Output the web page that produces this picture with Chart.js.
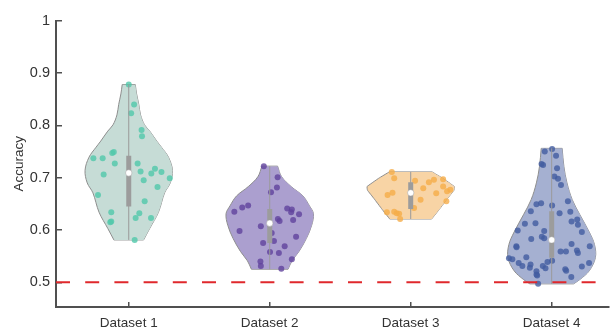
<!DOCTYPE html>
<html>
<head>
<meta charset="utf-8">
<script src="https://cdn.jsdelivr.net/npm/chart.js@4.4.0/dist/chart.umd.min.js"></script>
<style>
  html, body { margin: 0; padding: 0; background: #fff; }
  #wrap { width: 613px; height: 331px; position: relative; }
</style>
</head>
<body>
<div id="wrap"><canvas id="violinChart"></canvas></div>
<script>
// Categories and axis ticks
const categories = ['Dataset 1', 'Dataset 2', 'Dataset 3', 'Dataset 4'];
const yTicks = [0.5, 0.6, 0.7, 0.8, 0.9, 1];
const chanceLevel = 0.5;

// Accuracies of each sample, with the horizontal jitter (category units)
const acc1 = [0.878, 0.840, 0.823, 0.791, 0.779, 0.737, 0.737, 0.747, 0.749, 0.727, 0.727, 0.717, 0.711, 0.712,
              0.708, 0.699, 0.695, 0.706, 0.682, 0.667, 0.655, 0.634, 0.632, 0.623, 0.623, 0.615, 0.616, 0.581];
const jit1 = [0.000, 0.038, 0.017, 0.091, 0.094, -0.251, -0.185, -0.117, -0.106, -0.099, 0.063, 0.186, 0.232, 0.084,
              0.160, 0.291, 0.106, -0.178, 0.204, -0.218, 0.113, -0.124, 0.075, 0.049, 0.158, -0.131, -0.124, 0.042];

const acc2 = [0.722, 0.701, 0.681, 0.672, 0.635, 0.643, 0.647, 0.641, 0.639, 0.634, 0.630, 0.621, 0.617, 0.619,
              0.607, 0.598, 0.594, 0.587, 0.579, 0.575, 0.569, 0.558, 0.556, 0.544, 0.540, 0.531, 0.526];
const jit2 = [-0.042, 0.056, 0.051, 0.009, -0.251, -0.195, -0.153, 0.124, 0.157, 0.152, 0.208, 0.058, 0.070, 0.166,
              -0.063, -0.214, 0.014, 0.187, 0.030, -0.047, 0.106, 0.002, 0.065, 0.157, -0.066, -0.063, 0.082];

const acc3 = [0.711, 0.699, 0.694, 0.691, 0.696, 0.697, 0.680, 0.683, 0.677, 0.674, 0.670, 0.671, 0.667, 0.658,
              0.655, 0.642, 0.634, 0.635, 0.632, 0.631, 0.621];
const jit3 = [-0.134, -0.117, 0.031, 0.129, 0.165, 0.230, 0.089, 0.230, 0.281, 0.258, 0.181, -0.129, -0.164, 0.070,
              0.253, 0.024, -0.169, -0.117, -0.099, -0.082, -0.075];

const acc4 = [0.750, 0.755, 0.742, 0.726, 0.724, 0.718, 0.702, 0.698, 0.686, 0.655, 0.649, 0.651, 0.647, 0.636,
              0.632, 0.635, 0.612, 0.613, 0.616, 0.620, 0.610, 0.599, 0.598, 0.596, 0.583, 0.587, 0.584, 0.569,
              0.567, 0.573, 0.569, 0.559, 0.559, 0.561, 0.556, 0.548, 0.546, 0.544, 0.537, 0.539, 0.541, 0.531,
              0.534, 0.528, 0.531, 0.527, 0.521, 0.525, 0.522, 0.530, 0.537, 0.515, 0.513, 0.510, 0.497];
const jit4 = [-0.049, 0.003, 0.031, -0.072, -0.061, 0.038, 0.019, 0.045, 0.066, 0.115, -0.108, -0.075, 0.003, -0.148,
              0.056, 0.132, -0.190, -0.115, 0.141, 0.181, 0.186, -0.241, -0.053, 0.214, -0.145, -0.070, -0.053, -0.251,
              -0.249, 0.141, 0.270, 0.063, 0.101, 0.179, 0.186, -0.180, -0.303, -0.279, -0.234, -0.030, 0.003, -0.208,
              -0.150, -0.155, -0.063, -0.044, -0.108, 0.096, 0.103, 0.214, 0.265, -0.108, -0.103, 0.139, -0.096];

// Violin outlines: accuracy levels (bottom to top) and relative density (1 = widest)
const lev1 = [0.581, 0.603, 0.634, 0.671, 0.690, 0.714, 0.739, 0.758, 0.770, 0.789, 0.801, 0.820, 0.840, 0.860, 0.878];
const den1 = [0.34, 0.48, 0.68, 0.82, 0.95, 1.00, 0.91, 0.75, 0.64, 0.48, 0.36, 0.27, 0.23, 0.18, 0.15];
const lev2 = [0.525, 0.541, 0.559, 0.584, 0.609, 0.631, 0.646, 0.665, 0.683, 0.702, 0.722];
const den2 = [0.42, 0.51, 0.67, 0.84, 0.96, 1.00, 0.91, 0.76, 0.49, 0.27, 0.18];
const lev3 = [0.621, 0.640, 0.660, 0.676, 0.683, 0.699, 0.711];
const den3 = [0.48, 0.66, 0.84, 0.99, 1.00, 0.73, 0.49];
const lev4 = [0.497, 0.505, 0.522, 0.547, 0.572, 0.596, 0.630, 0.658, 0.690, 0.721, 0.756];
const den4 = [0.50, 0.64, 0.86, 1.00, 0.98, 0.86, 0.64, 0.47, 0.35, 0.28, 0.24];

// Box plot statistics
const q1s = [0.645, 0.575, 0.640, 0.547];
const medians = [0.709, 0.613, 0.671, 0.581];
const q3s = [0.742, 0.640, 0.691, 0.636];

const accs = [acc1, acc2, acc3, acc4];
const jits = [jit1, jit2, jit3, jit4];
const levels = [lev1, lev2, lev3, lev4];
const densities = [den1, den2, den3, den4];

// styling
const X_MIN = 0.484, X_MAX = 4.403, Y_MIN = 0.4528, Y_MAX = 1;
const HALF_WIDTH = 0.31;
const FONT = "'Liberation Sans', Arial, sans-serif";
const AXIS = '#505050';
const OUTLINE = '#8e8e8e';
const fillColors = ['#c6dcd6', '#ab9fcf', '#f8d4a5', '#a5b0d1'];
const dotColors = ['rgba(80, 200, 170, 0.8)', 'rgba(96, 66, 156, 0.8)', 'rgba(245, 172, 72, 0.8)', 'rgba(66, 92, 160, 0.8)'];
const edgeTension = [0.35, 0.35, 0.05, 0.35];

function buildDatasets() {
    const sets = [];
    categories.forEach((name, i) => {
        const c = i + 1;
        const lv = levels[i], dn = densities[i];
        const last = lv.length - 1;
        const edge = {
            type: 'line', indexAxis: 'y', borderColor: OUTLINE, borderWidth: 1,
            pointRadius: 0, tension: edgeTension[i], order: 5
        };
        // left and right edges of the violin, filled between each other
        sets.push(Object.assign({}, edge, {
            data: lv.map((y, j) => ({x: c - dn[j] * HALF_WIDTH, y: y})),
            fill: '+1', backgroundColor: fillColors[i]
        }));
        sets.push(Object.assign({}, edge, {
            data: lv.map((y, j) => ({x: c + dn[j] * HALF_WIDTH, y: y})),
            fill: false
        }));
        // flat bottom and top caps
        [0, last].forEach(k => {
            sets.push({
                type: 'line', borderColor: OUTLINE, borderWidth: 1, pointRadius: 0, order: 5, fill: false,
                data: [{x: c - dn[k] * HALF_WIDTH, y: lv[k]}, {x: c + dn[k] * HALF_WIDTH, y: lv[k]}]
            });
        });
        // samples
        sets.push({
            type: 'scatter', order: 3, pointRadius: 3, borderWidth: 0,
            backgroundColor: dotColors[i],
            data: accs[i].map((v, j) => ({x: c + jits[i][j], y: v}))
        });
        // whisker line through the whole violin
        sets.push({
            type: 'line', order: 2, borderColor: '#9a9a9a', borderWidth: 1, pointRadius: 0, fill: false,
            data: [{x: c, y: lv[0]}, {x: c, y: lv[last]}]
        });
        // interquartile box
        sets.push({
            type: 'line', order: 1, borderColor: '#9c9c9c', borderWidth: 5, borderCapStyle: 'butt',
            pointRadius: 0, fill: false,
            data: [{x: c, y: q1s[i]}, {x: c, y: q3s[i]}]
        });
        // median
        sets.push({
            type: 'scatter', order: 0, pointRadius: 3.2, backgroundColor: '#ffffff',
            borderColor: '#a0a0a0', borderWidth: 0.5,
            data: [{x: c, y: medians[i]}]
        });
    });
    // chance level
    sets.push({
        type: 'line', order: -1, borderColor: '#e0282c', borderWidth: 2, borderDash: [14, 15.2],
        pointRadius: 0, fill: false,
        data: [{x: X_MIN, y: chanceLevel}, {x: X_MAX, y: chanceLevel}]
    });
    return sets;
}

function initViolinChart() {
    const ctx = document.getElementById('violinChart').getContext('2d');

    new Chart(ctx, {
        type: 'scatter',
        data: { datasets: buildDatasets() },
        options: {
            responsive: true,
            maintainAspectRatio: false,
            animation: false,
            events: [],
            layout: { padding: { top: 13, right: 0, bottom: 0, left: 0 } },
            plugins: {
                legend: { display: false },
                tooltip: { enabled: false }
            },
            scales: {
                x: {
                    type: 'linear',
                    min: X_MIN,
                    max: X_MAX,
                    afterBuildTicks: scale => {
                        scale.ticks = categories.map((_, i) => ({ value: i + 1 }));
                    },
                    afterFit: scale => { scale.height = 24; },
                    ticks: {
                        callback: (value, index) => categories[index],
                        autoSkip: false,
                        maxRotation: 0,
                        padding: 13,
                        color: '#333',
                        font: { family: FONT, size: 13.5 }
                    },
                    grid: {
                        drawOnChartArea: false,
                        tickLength: -5,
                        color: AXIS,
                        lineWidth: 1.5
                    },
                    border: { color: AXIS, width: 2 }
                },
                y: {
                    type: 'linear',
                    min: Y_MIN,
                    max: Y_MAX,
                    afterBuildTicks: scale => {
                        scale.ticks = yTicks.map(v => ({ value: v }));
                    },
                    afterFit: scale => { scale.width = 56; },
                    ticks: {
                        callback: value => value === 1 ? '1' : value.toFixed(1),
                        padding: 12,
                        color: '#333',
                        font: { family: FONT, size: 14.5 }
                    },
                    grid: {
                        drawOnChartArea: false,
                        tickLength: -6,
                        color: AXIS,
                        lineWidth: 1.5
                    },
                    border: { color: AXIS, width: 2 },
                    title: {
                        display: true,
                        text: 'Accuracy',
                        color: '#333',
                        font: { family: FONT, size: 13.5 },
                        padding: { top: 11, bottom: 0 }
                    }
                }
            }
        }
    });
}

document.addEventListener('DOMContentLoaded', initViolinChart);
</script>
</body>
</html>
